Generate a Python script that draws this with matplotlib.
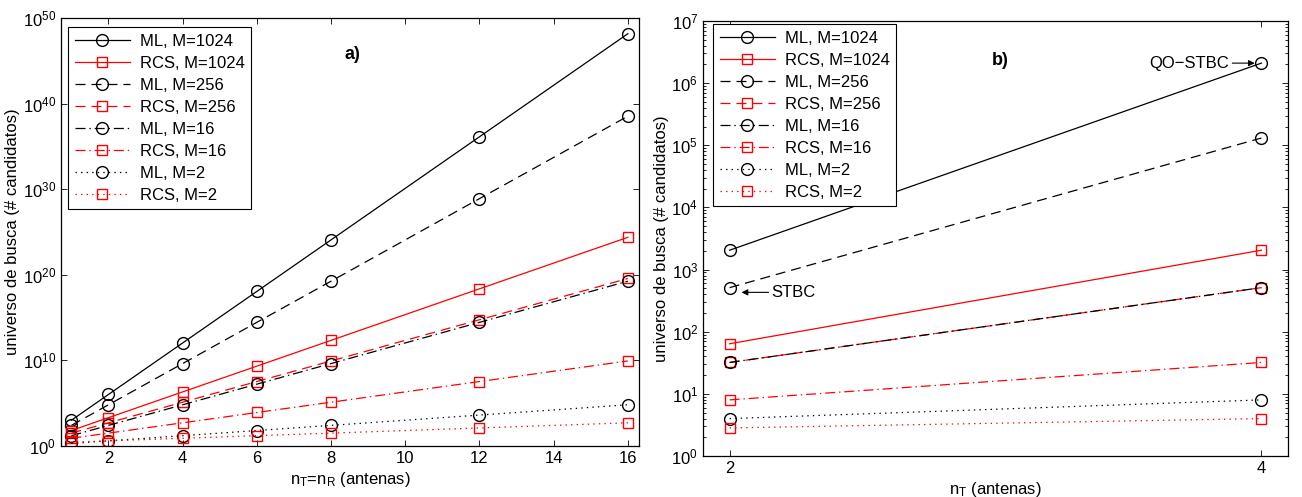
import numpy as np
import matplotlib
matplotlib.use('Agg')
import matplotlib.pyplot as plt
from matplotlib.ticker import FixedLocator, NullLocator, LogLocator

plt.rcParams['font.family'] = ['Liberation Sans', 'DejaVu Sans']
plt.rcParams['mathtext.default'] = 'regular'
plt.rcParams['lines.scale_dashes'] = False

# a) n_T = n_R
nt_a = [1, 2, 4, 6, 8, 12, 16]
ml_1024_a = [1.02e3, 1.05e6, 1.1e12, 1.15e18, 1.21e24, 1.33e36, 1.46e48]
rcs_1024_a = [64, 2.05e3, 2.1e6, 2.15e9, 2.2e12, 2.3e18, 2.4e24]
ml_256_a = [256, 6.55e4, 4.3e9, 2.8e14, 1.8e19, 7.9e28, 3.4e38]
rcs_256_a = [32, 512, 1.31e5, 3.4e7, 8.6e9, 5.6e14, 3.7e19]
ml_16_a = [16, 256, 6.55e4, 1.68e7, 4.3e9, 2.8e14, 1.8e19]
rcs_16_a = [8, 32, 512, 8.2e3, 1.31e5, 3.4e7, 8.6e9]
ml_2_a = [2, 4, 16, 64, 256, 4096, 65536]
rcs_2_a = [2.83, 4, 8, 16, 32, 128, 512]

# b) n_T only
nt_b = [2, 4]
ml_1024_b = [2048, 2.1e6]
rcs_1024_b = [64, 2048]
ml_256_b = [512, 1.31e5]
rcs_256_b = [32, 512]
ml_16_b = [32, 512]
rcs_16_b = [8, 32]
ml_2_b = [4, 8]
rcs_2_b = [2.83, 4]

labels = ['ML, M=1024', 'RCS, M=1024', 'ML, M=256', 'RCS, M=256',
          'ML, M=16', 'RCS, M=16', 'ML, M=2', 'RCS, M=2']

solid = '-'
dashed = (0, (7.2, 4.3))
dashdot = (0, (7.2, 2.8, 1.0, 2.8))
dotted = (0, (1.0, 3.0))
styles = [solid, solid, dashed, dashed, dashdot, dashdot, dotted, dotted]
colors = ['k', 'r'] * 4
markers = ['o', 's'] * 4

FS = 12

fig = plt.figure(figsize=(13.02, 4.97), dpi=100)
W, H = 1302, 497
ax1 = fig.add_axes([61 / W, 1 - 446 / H, 578 / W, 428 / H])
ax2 = fig.add_axes([703 / W, 1 - 456 / H, 585 / W, 435 / H])

series_a = [ml_1024_a, rcs_1024_a, ml_256_a, rcs_256_a, ml_16_a, rcs_16_a, ml_2_a, rcs_2_a]
series_b = [ml_1024_b, rcs_1024_b, ml_256_b, rcs_256_b, ml_16_b, rcs_16_b, ml_2_b, rcs_2_b]

for ax, xs, series in [(ax1, nt_a, series_a), (ax2, nt_b, series_b)]:
    for ys, lab, ls, c, m in zip(series, labels, styles, colors, markers):
        ax.semilogy(xs, ys, linestyle=ls, color=c, marker=m, markersize=8.5 if m == 'o' else 7.5,
                    markerfacecolor='none', markeredgewidth=1.0, linewidth=0.9, label=lab)
    ax.tick_params(which='both', direction='in', top=True, right=True, labelsize=FS)
    ax.tick_params(which='major', length=4.5, width=0.6)
    ax.tick_params(which='minor', length=2.5, width=0.6)
    for s in ax.spines.values():
        s.set_linewidth(0.9)
    ax.set_ylabel('universo de busca (# candidatos)', fontsize=FS, labelpad=2)

# left axes
ax1.set_xlim(0.72, 16.3)
ax1.set_ylim(1, 1e50)
ax1.set_xticks([2, 4, 6, 8, 10, 12, 14, 16])
ax1.yaxis.set_major_locator(FixedLocator([10.0 ** k for k in range(0, 51, 10)]))
ax1.yaxis.set_minor_locator(NullLocator())
ax1.set_xlabel(r'$n_T$=$n_R$ (antenas)', fontsize=FS, labelpad=3)
ax1.text(0.505, 0.914, 'a)', transform=ax1.transAxes, fontsize=13, fontweight='bold',
         ha='center', va='center')
leg_kw = dict(loc='upper left', borderaxespad=0, numpoints=1, fontsize=FS,
              handlelength=3.3, handletextpad=0.6, labelspacing=0.42,
              fancybox=False, framealpha=1, edgecolor='k', borderpad=0.4)
ax1.legend(bbox_to_anchor=(0.012, 0.979), **leg_kw).get_frame().set_linewidth(0.8)

# right axes
ax2.set_xlim(1.9, 4.1)
ax2.set_ylim(1, 1e7)
ax2.set_xticks([2, 4])
ax2.yaxis.set_major_locator(FixedLocator([10.0 ** k for k in range(0, 8)]))
ax2.yaxis.set_minor_locator(LogLocator(base=10, subs=np.arange(2, 10)))
ax2.set_xlabel(r'$n_T$ (antenas)', fontsize=FS, labelpad=3)
ax2.text(0.508, 0.91, 'b)', transform=ax2.transAxes, fontsize=13, fontweight='bold',
         ha='center', va='center')
ax2.legend(bbox_to_anchor=(0.017, 0.993), **leg_kw).get_frame().set_linewidth(0.8)

ax2.annotate('QO\u2212STBC', xy=(3.975, ml_1024_b[1]), xytext=(3.88, ml_1024_b[1]),
             ha='right', va='center', fontsize=FS,
             arrowprops=dict(arrowstyle='-|>', color='k', lw=0.8, mutation_scale=9,
                             shrinkA=0, shrinkB=0))
ax2.annotate('STBC', xy=(2.045, 430), xytext=(2.157, 430),
             ha='left', va='center', fontsize=FS,
             arrowprops=dict(arrowstyle='-|>', color='k', lw=0.8, mutation_scale=9,
                             shrinkA=0, shrinkB=0))

fig.savefig('out.png', dpi=100)
